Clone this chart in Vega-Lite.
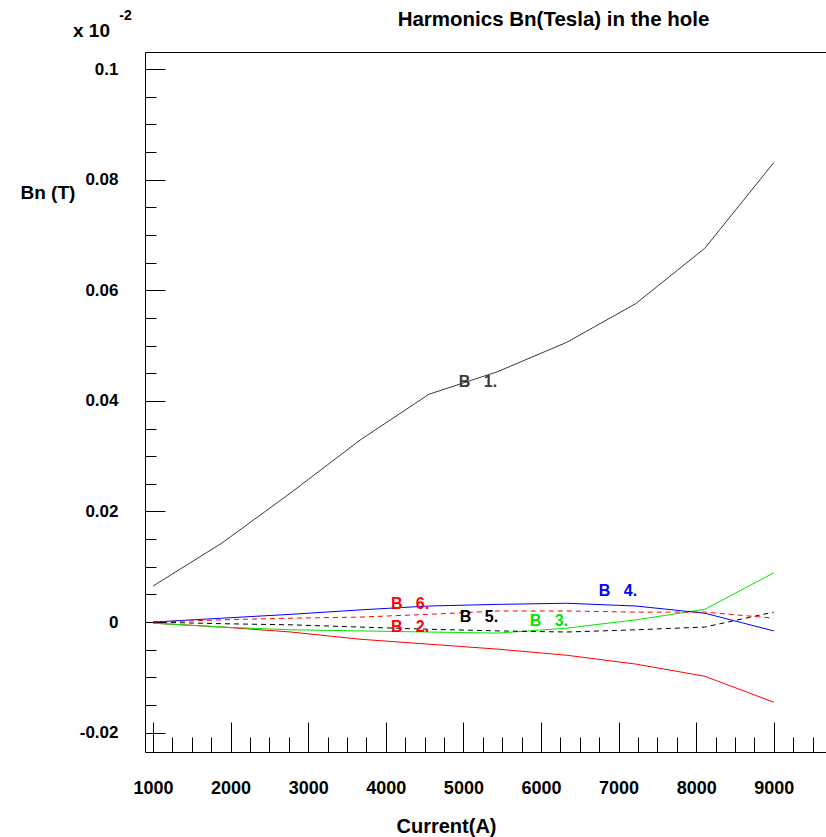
{
  "$schema": "https://vega.github.io/schema/vega-lite/v6.json",
  "width": 682,
  "height": 700,
  "autosize": {"type": "none"},
  "padding": {"left": 145, "top": 52, "right": 0, "bottom": 85},
  "background": "white",
  "config": {
    "view": {"stroke": null},
    "font": "Liberation Sans",
    "axis": {"grid": false, "domainColor": "black", "domainWidth": 1, "tickColor": "black", "tickWidth": 1, "labelColor": "black", "titleColor": "black", "labelFont": "Liberation Sans", "titleFont": "Liberation Sans"}
  },
  "title": {
    "text": "x 10",
    "anchor": "start",
    "frame": "group",
    "dx": -72,
    "dy": 33,
    "offset": 0,
    "fontSize": 19,
    "fontWeight": "bold",
    "color": "black",
    "font": "Liberation Sans"
  },
  "datasets": {
    "curves": [
      {"current": 1000, "bn": 0.0065, "series": "B1"},
      {"current": 1889, "bn": 0.0143, "series": "B1"},
      {"current": 2778, "bn": 0.0234, "series": "B1"},
      {"current": 3667, "bn": 0.0329, "series": "B1"},
      {"current": 4556, "bn": 0.0412, "series": "B1"},
      {"current": 5444, "bn": 0.0453, "series": "B1"},
      {"current": 6333, "bn": 0.0506, "series": "B1"},
      {"current": 7222, "bn": 0.0576, "series": "B1"},
      {"current": 8111, "bn": 0.0676, "series": "B1"},
      {"current": 9000, "bn": 0.0831, "series": "B1"},

      {"current": 1000, "bn": -0.0002, "series": "B2"},
      {"current": 1889, "bn": -0.0009, "series": "B2"},
      {"current": 2778, "bn": -0.0018, "series": "B2"},
      {"current": 3667, "bn": -0.0031, "series": "B2"},
      {"current": 4556, "bn": -0.0040, "series": "B2"},
      {"current": 5444, "bn": -0.0049, "series": "B2"},
      {"current": 6333, "bn": -0.0060, "series": "B2"},
      {"current": 7222, "bn": -0.0076, "series": "B2"},
      {"current": 8111, "bn": -0.0098, "series": "B2"},
      {"current": 9000, "bn": -0.0145, "series": "B2"},

      {"current": 1000, "bn": -0.0002, "series": "B3"},
      {"current": 1889, "bn": -0.0009, "series": "B3"},
      {"current": 2778, "bn": -0.0014, "series": "B3"},
      {"current": 3667, "bn": -0.0016, "series": "B3"},
      {"current": 4556, "bn": -0.0018, "series": "B3"},
      {"current": 5444, "bn": -0.0020, "series": "B3"},
      {"current": 6333, "bn": -0.0011, "series": "B3"},
      {"current": 7222, "bn": 0.0004, "series": "B3"},
      {"current": 8111, "bn": 0.0023, "series": "B3"},
      {"current": 9000, "bn": 0.0089, "series": "B3"},

      {"current": 1000, "bn": 0.0000, "series": "B4"},
      {"current": 1889, "bn": 0.0007, "series": "B4"},
      {"current": 2778, "bn": 0.0014, "series": "B4"},
      {"current": 3667, "bn": 0.0022, "series": "B4"},
      {"current": 4556, "bn": 0.0029, "series": "B4"},
      {"current": 5444, "bn": 0.0032, "series": "B4"},
      {"current": 6333, "bn": 0.0034, "series": "B4"},
      {"current": 7222, "bn": 0.0029, "series": "B4"},
      {"current": 8111, "bn": 0.0016, "series": "B4"},
      {"current": 9000, "bn": -0.0016, "series": "B4"},

      {"current": 1000, "bn": 0.0000, "series": "B5"},
      {"current": 1889, "bn": -0.0003, "series": "B5"},
      {"current": 2778, "bn": -0.0005, "series": "B5"},
      {"current": 3667, "bn": -0.0009, "series": "B5"},
      {"current": 4556, "bn": -0.0013, "series": "B5"},
      {"current": 5444, "bn": -0.0016, "series": "B5"},
      {"current": 6333, "bn": -0.0018, "series": "B5"},
      {"current": 7222, "bn": -0.0014, "series": "B5"},
      {"current": 8111, "bn": -0.0009, "series": "B5"},
      {"current": 9000, "bn": 0.0018, "series": "B5"},

      {"current": 1000, "bn": 0.0000, "series": "B6"},
      {"current": 1889, "bn": 0.0004, "series": "B6"},
      {"current": 2778, "bn": 0.0007, "series": "B6"},
      {"current": 3667, "bn": 0.0009, "series": "B6"},
      {"current": 4556, "bn": 0.0014, "series": "B6"},
      {"current": 5444, "bn": 0.0020, "series": "B6"},
      {"current": 6333, "bn": 0.0020, "series": "B6"},
      {"current": 7222, "bn": 0.0018, "series": "B6"},
      {"current": 8111, "bn": 0.0018, "series": "B6"},
      {"current": 9000, "bn": 0.0007, "series": "B6"}
    ],
    "labels": [
      {"x": 5188, "y": 0.0434, "text": "B\u00a0\u00a0\u00a01.", "series": "B1"},
      {"x": 4312, "y": 0.00325, "text": "B\u00a0\u00a0\u00a06.", "series": "B6"},
      {"x": 4312, "y": -0.0009, "text": "B\u00a0\u00a0\u00a02.", "series": "B2"},
      {"x": 5201, "y": 0.0009, "text": "B\u00a0\u00a0\u00a05.", "series": "B5"},
      {"x": 6103, "y": 0.0002, "text": "B\u00a0\u00a0\u00a03.", "series": "B3"},
      {"x": 6992, "y": 0.0056, "text": "B\u00a0\u00a0\u00a04.", "series": "B4"}
    ]
  },
  "layer": [
    {
      "data": {"name": "curves"},
      "transform": [{"filter": "indexof(['B5', 'B6'], datum.series) < 0"}],
      "mark": {"type": "line", "strokeWidth": 1},
      "encoding": {
        "x": {
          "field": "current", "type": "quantitative",
          "scale": {"domain": [897, 9686], "nice": false, "zero": false},
          "axis": {
            "orient": "bottom",
            "values": [1000, 2000, 3000, 4000, 5000, 6000, 7000, 8000, 9000],
            "format": "d",
            "tickSize": -30,
            "labelPadding": 66,
            "labelBaseline": "middle",
            "labelFontSize": 18,
            "labelFontWeight": "bold",
            "title": "Current(A)",
            "titleX": 301, "titleY": 74,
            "titleAlign": "center", "titleBaseline": "middle",
            "titleFontSize": 20, "titleFontWeight": "bold"
          }
        },
        "y": {
          "field": "bn", "type": "quantitative",
          "scale": {"domain": [-0.0235, 0.1031], "nice": false, "zero": false},
          "axis": {
            "orient": "left",
            "values": [-0.02, 0, 0.02, 0.04, 0.06, 0.08, 0.1],
            "labelExpr": "'' + round(datum.value * 100) / 100",
            "tickSize": -20,
            "labelPadding": 47,
            "labelFontSize": 17,
            "labelFontWeight": "bold",
            "title": "Bn (T)",
            "titleAngle": 0,
            "titleX": -125, "titleY": 140,
            "titleAlign": "left", "titleBaseline": "middle",
            "titleFontSize": 19, "titleFontWeight": "bold"
          }
        },
        "color": {
          "field": "series", "type": "nominal",
          "scale": {"domain": ["B1", "B2", "B3", "B4", "B5", "B6"], "range": ["#3a3a3a", "#ff0000", "#00e600", "#0000ff", "#000000", "#ff0000"]},
          "legend": null
        }
      }
    },
    {
      "data": {"name": "curves"},
      "transform": [{"filter": "indexof(['B5', 'B6'], datum.series) >= 0"}],
      "mark": {"type": "line", "strokeWidth": 1, "strokeDash": [5, 4]},
      "encoding": {
        "x": {
          "field": "current", "type": "quantitative",
          "axis": {
            "orient": "bottom",
            "values": [1250, 1500, 1750, 2250, 2500, 2750, 3250, 3500, 3750, 4250, 4500, 4750, 5250, 5500, 5750, 6250, 6500, 6750, 7250, 7500, 7750, 8250, 8500, 8750, 9250, 9500],
            "tickSize": -15,
            "labels": false,
            "domain": false,
            "title": null
          }
        },
        "y": {
          "field": "bn", "type": "quantitative",
          "axis": {
            "orient": "left",
            "values": [-0.015, -0.01, -0.005, 0.005, 0.01, 0.015, 0.025, 0.03, 0.035, 0.045, 0.05, 0.055, 0.065, 0.07, 0.075, 0.085, 0.09, 0.095],
            "tickSize": -11,
            "labels": false,
            "domain": false,
            "title": null
          }
        },
        "color": {"field": "series", "type": "nominal", "legend": null}
      }
    },
    {
      "data": {"name": "labels"},
      "mark": {"type": "text", "fontSize": 16, "fontWeight": "bold", "align": "center", "baseline": "middle", "font": "Liberation Sans"},
      "encoding": {
        "x": {
          "field": "x", "type": "quantitative",
          "axis": {
            "orient": "top",
            "ticks": false,
            "labels": false,
            "domain": true,
            "title": "Harmonics Bn(Tesla) in the hole",
            "titleX": 408, "titleY": -33,
            "titleAlign": "center", "titleBaseline": "middle",
            "titleFontSize": 20.5, "titleFontWeight": "bold"
          }
        },
        "y": {
          "field": "y", "type": "quantitative",
          "axis": {
            "orient": "right",
            "ticks": false,
            "labels": false,
            "domain": false,
            "title": "-2",
            "titleAngle": 0,
            "titleX": -702, "titleY": -37,
            "titleAlign": "center", "titleBaseline": "middle",
            "titleFontSize": 14, "titleFontWeight": "bold"
          }
        },
        "text": {"field": "text"},
        "color": {"field": "series", "type": "nominal", "legend": null}
      }
    }
  ],
  "resolve": {"axis": {"x": "independent", "y": "independent"}}
}
